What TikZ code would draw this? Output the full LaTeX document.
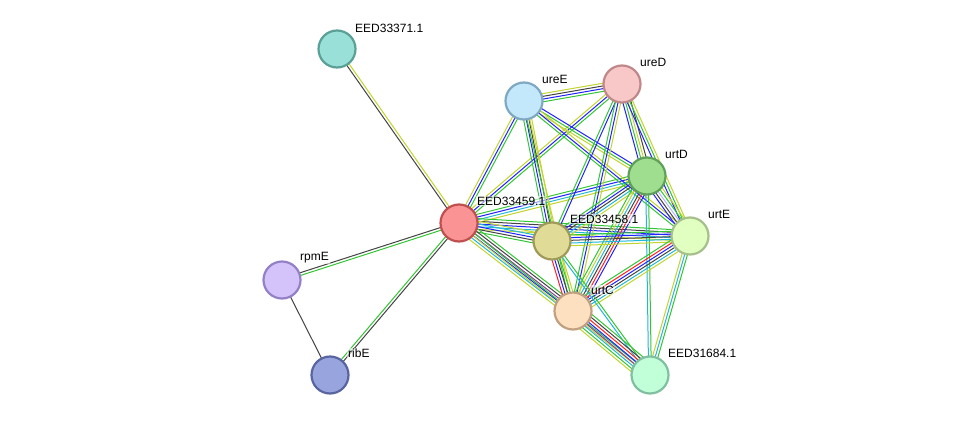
\documentclass[tikz,border=0pt]{standalone}
\usepackage{fontspec}
\setmainfont{Liberation Sans}
\usetikzlibrary{calc,backgrounds}
\definecolor{eg}{HTML}{33C633}
\definecolor{eb}{HTML}{2222FF}
\definecolor{ek}{HTML}{444444}
\definecolor{ey}{HTML}{C2D52E}
\definecolor{ec}{HTML}{22B8D6}
\definecolor{er}{HTML}{FF2222}
\definecolor{ep}{HTML}{8A3A9A}
\definecolor{el}{HTML}{B4B4FF}
\newcommand\stredge[3]{%
  \foreach \ecol [count=\ei] in {#3} {\xdef\nedg{\ei}}%
  \foreach \ecol [count=\ei] in {#3} {%
    \pgfmathsetmacro\eoff{(\ei-(\nedg+1)/2)*2.7}%
    \draw[strline, color=\ecol] ($(#1)!\eoff pt!90:(#2)$) -- ($(#2)!\eoff pt!-90:(#1)$);
  }}
\tikzset{
  prot/.style={circle, minimum size=37pt, inner sep=0pt, line width=2.2pt},
  plabel/.style={anchor=west, font=\fontsize{12}{14}\selectfont, inner sep=1pt, text=black, fill=white, fill opacity=0.55, text opacity=1},
  strline/.style={line width=1pt}
}
\begin{document}
\begin{tikzpicture}[x=1pt,y=-1pt]
\useasboundingbox (0,0) rectangle (976,420);
\node[prot, fill={rgb,255:red,153;green,224;blue,216}, draw={rgb,255:red,90;green,160;blue,150}] (n71) at (337,49) {};
\node[prot, fill={rgb,255:red,250;green,148;blue,148}, draw={rgb,255:red,192;green,80;blue,80}] (n59) at (459,223) {};
\node[prot, fill={rgb,255:red,212;green,194;blue,251}, draw={rgb,255:red,148;green,128;blue,196}] (rpmE) at (282,280) {};
\node[prot, fill={rgb,255:red,152;green,164;blue,222}, draw={rgb,255:red,88;green,101;blue,160}] (ribE) at (330,375) {};
\node[prot, fill={rgb,255:red,195;green,231;blue,251}, draw={rgb,255:red,127;green,168;blue,194}] (ureE) at (524,101) {};
\node[prot, fill={rgb,255:red,248;green,200;blue,200}, draw={rgb,255:red,192;green,136;blue,136}] (ureD) at (622,84) {};
\node[prot, fill={rgb,255:red,159;green,221;blue,143}, draw={rgb,255:red,95;green,160;blue,90}] (urtD) at (647,176) {};
\node[prot, fill={rgb,255:red,224;green,255;blue,192}, draw={rgb,255:red,165;green,192;blue,138}] (urtE) at (690,236) {};
\node[prot, fill={rgb,255:red,224;green,220;blue,152}, draw={rgb,255:red,160;green,154;blue,90}] (n58) at (552,241) {};
\node[prot, fill={rgb,255:red,253;green,224;blue,192}, draw={rgb,255:red,192;green,160;blue,128}] (urtC) at (573,311) {};
\node[prot, fill={rgb,255:red,192;green,255;blue,216}, draw={rgb,255:red,128;green,192;blue,160}] (n84) at (650,375) {};

\node[plabel] (l71) at (354,28) {EED33371.1};
\node[plabel] (l59) at (476,201) {EED33459.1};
\node[plabel] (lrpmE) at (299,258) {rpmE};
\node[plabel] (lribE) at (347,353) {ribE};
\node[plabel] (lureE) at (541,79) {ureE};
\node[plabel] (lureD) at (639,62) {ureD};
\node[plabel] (lurtD) at (664,154) {urtD};
\node[plabel] (lurtE) at (707,214) {urtE};
\node[plabel] (l58) at (569,219) {EED33458.1};
\node[plabel] (lurtC) at (590,290) {urtC};
\node[plabel] (l84) at (667,353) {EED31684.1};

\begin{scope}[on background layer]
\fill[white] (0,0) rectangle (976,420);
\stredge{n59}{n71}{ey,ek}
\stredge{n59}{rpmE}{ek,eg}
\stredge{n59}{ribE}{eg,ek}
\stredge{rpmE}{ribE}{ek}
\stredge{n59}{ureE}{eg,eb,ey}
\stredge{n59}{ureD}{eg,eb,ey}
\stredge{n59}{urtD}{ey,ec,eb,eg}
\stredge{n59}{urtE}{ey,ec,eb,ek,eg}
\stredge{n59}{n58}{eg,ek,eb,ec,ey}
\stredge{n59}{urtC}{ey,ec,eb,ep,ek,eg}
\stredge{n59}{n84}{ey,eg}
\stredge{ureE}{ureD}{eg,eb,ek,ey}
\stredge{ureE}{urtD}{ey,eg,eb}
\stredge{ureE}{urtE}{eg,eb,ey}
\stredge{ureE}{n58}{eg,eb,ek,ey}
\stredge{ureE}{urtC}{eg,ey}
\stredge{ureD}{urtD}{eb,eg,ey,ek}
\stredge{ureD}{urtE}{eb,eg,ey}
\stredge{ureD}{n58}{eg,eb}
\stredge{ureD}{urtC}{eg,eb,ey}
\stredge{urtD}{urtE}{eb,ek,el,eg,ey}
\stredge{urtD}{n58}{eg,eb,ek,ec,ey}
\stredge{urtD}{urtC}{eg,ey,ec,ek,er,eb}
\stredge{urtD}{n84}{ec,eg}
\stredge{urtE}{n58}{eg,eb,ek,ec,ey}
\stredge{urtE}{urtC}{eg,er,eb,ek,ec,ey}
\stredge{urtE}{n84}{ey,ec,eg}
\stredge{n58}{urtC}{er,eb,ek,eg,ey}
\stredge{n58}{n84}{ec,eg}
\stredge{urtC}{n84}{ey,eg,ec,ep,eb,er,ek,eg}
\end{scope}
\end{tikzpicture}
\end{document}
